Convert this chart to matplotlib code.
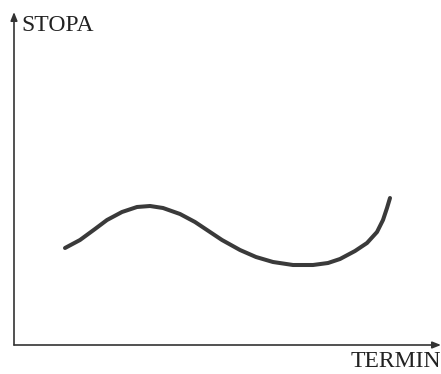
import matplotlib.pyplot as plt

# sketch of a yield curve: rate vs term (arbitrary units, origin at axes corner)
term = [51, 66, 81, 93, 108, 123, 136, 149, 166, 181, 193, 208, 226, 242,
        259, 279, 299, 314, 326, 341, 353, 363, 369, 373, 376]
rate = [97, 105, 116, 125, 133, 138, 139, 137, 131, 123, 115, 105, 95, 88,
        83, 80, 80, 82, 86, 94, 102, 113, 125, 137, 147]

x_label = "TERMIN"
y_label = "STOPA"

W, H = 441, 374
fig = plt.figure(figsize=(W / 100, H / 100), dpi=100)
ax = fig.add_axes([14 / W, (H - 345) / H, (W - 14) / W, (345 - 12) / H])
ax.set_xlim(0, W - 14)
ax.set_ylim(0, 345 - 12)
ax.axis("off")

ink = "#333333"
ax.plot(term, rate, color="#3a3a3a", lw=2.9, solid_capstyle="round", solid_joinstyle="round")

arrow = dict(arrowstyle="-|>,head_length=0.5,head_width=0.2", color=ink, lw=1.2,
             shrinkA=0, shrinkB=0)
ax.annotate("", xy=(0, 1), xytext=(0, 0), xycoords="axes fraction",
            arrowprops=arrow, annotation_clip=False)
ax.annotate("", xy=(1, 0), xytext=(0, 0), xycoords="axes fraction",
            arrowprops=arrow, annotation_clip=False)

serif = ["Liberation Serif", "DejaVu Serif"]
fig.text(21 / W, 1 - 15 / H, y_label, family=serif, fontsize=17, color="#222222",
         ha="left", va="top")
fig.text(351 / W, 1 - 351 / H, x_label, family=serif, fontsize=17, color="#222222",
         ha="left", va="top")

fig.savefig("out.png", dpi=100, facecolor="white")
